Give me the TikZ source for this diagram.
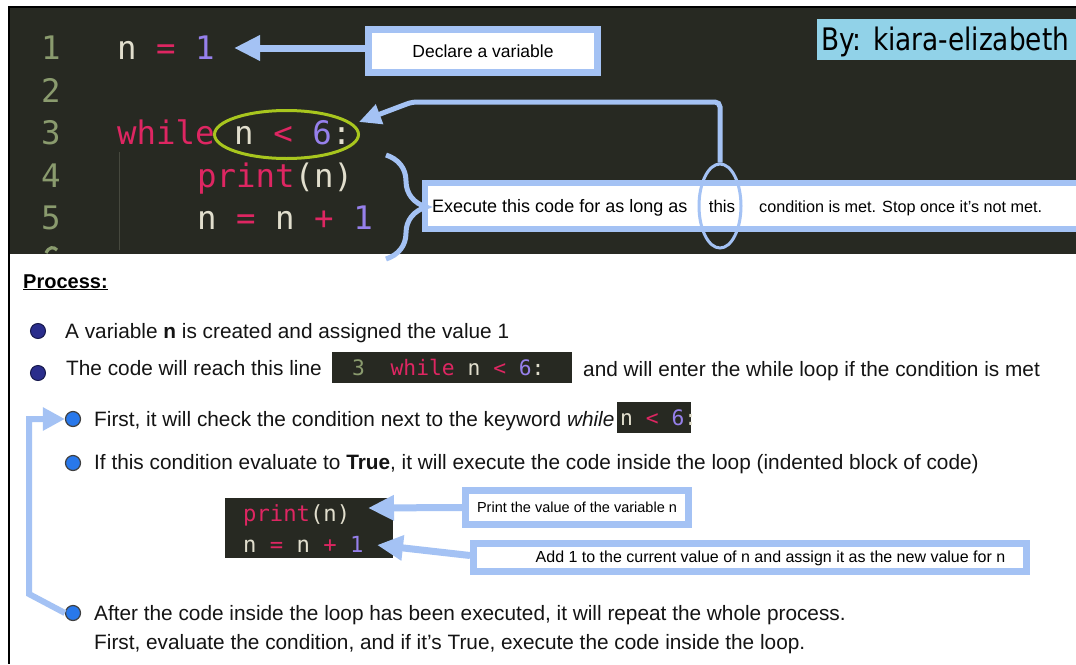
\documentclass[tikz,border=0pt]{standalone}
\usepackage{fontspec}
\setmainfont{Liberation Sans}
\newfontfamily\codefont{DejaVu Sans Mono}
\newfontfamily\byfont[FakeStretch=0.85]{DejaVu Sans}
\usetikzlibrary{arrows.meta,shapes.geometric,decorations.pathreplacing}
\definecolor{panel}{RGB}{39,41,34}
\definecolor{lnum}{RGB}{138,155,110}
\definecolor{kred}{RGB}{222,38,98}
\definecolor{kpurp}{RGB}{150,128,235}
\definecolor{cream}{RGB}{225,222,205}
\definecolor{lblue}{RGB}{164,194,244}
\definecolor{cgreen}{RGB}{168,198,30}
\definecolor{skyb}{RGB}{145,210,232}
\definecolor{navyb}{RGB}{42,45,140}
\definecolor{blueb}{RGB}{40,120,235}
\definecolor{guide}{RGB}{70,72,62}
\newcommand{\setfs}[1]{\fontsize{#1pt}{#1pt}\selectfont}
\begin{document}
\begin{tikzpicture}[x=1pt,y=-1pt,
  txt/.style={inner sep=0pt, anchor=base west, font=\setfs{20.8}, text=black!92},
  bigcode/.style={inner sep=0pt, anchor=base west, font={\codefont\setfs{32.4}}},
  lnumber/.style={inner sep=0pt, anchor=base, font={\codefont\setfs{32.4}}, text=lnum},
  smallcode/.style={inner sep=0pt, anchor=base west, font={\codefont\setfs{21.3}}},
  midcode/.style={inner sep=0pt, anchor=base west, font={\codefont\setfs{22.2}}},
  bluebox/.style={draw=lblue, fill=white, rectangle, inner sep=0pt},
  codebox/.style={fill=panel, rectangle, inner sep=0pt},
  navybullet/.style={circle, fill=navyb, draw=navyb!55!black, line width=1pt, minimum size=15pt, inner sep=0pt},
  bluebullet/.style={circle, fill=blueb, draw=black!75, line width=1.2pt, minimum size=15pt, inner sep=0pt},
  fatarrow/.style={draw=lblue, line width=7pt, -{Triangle[length=26pt,width=24pt]}},
  thinarrow/.style={draw=lblue, line width=5pt, rounded corners=5pt, -{Triangle[length=22pt,width=20pt]}},
  loopback/.style={draw=lblue, line width=6pt, -{Triangle[length=22pt,width=22pt]}}
]
\useasboundingbox (0,0) rectangle (1076,664);
\fill[white] (0,0) rectangle (1076,664);

% ---------- code panel ----------
\fill[panel] (8,8) rectangle (1076,254);
\draw[black, line width=2pt] (8,7) -- (1076,7);
\draw[black, line width=2pt] (9,7) -- (9,664);
\draw[guide, line width=1pt] (119,152) -- (119,250);

\node[lnumber] (ln1) at (51,59.5) {1};
\node[lnumber] (ln2) at (51,102) {2};
\node[lnumber] (ln3) at (51,144.5) {3};
\node[lnumber] (ln4) at (51,187) {4};
\node[lnumber] (ln5) at (51,229.5) {5};
% cut-off top of the next line number
\begin{scope}
\clip (8,8) rectangle (1076,254);
\draw[lnum, line width=3.2pt] (57,250) .. controls (54,246.5) and (49,246.5) .. (46,253);
\end{scope}

\node[bigcode] (code1) at (117,59.5) {{\color{cream}n} {\color{kred}=} {\color{kpurp}1}};
\node[bigcode] (code3) at (117,144.5) {{\color{kred}while} {\color{cream}n} {\color{kred}<} {\color{kpurp}6}{\color{cream}:}};
\node[bigcode] (code4) at (197,187) {{\color{kred}print}{\color{cream}(n)}};
\node[bigcode] (code5) at (197,229.5) {{\color{cream}n} {\color{kred}=} {\color{cream}n} {\color{kred}+} {\color{kpurp}1}};

\node[ellipse, draw=cgreen, line width=3pt, minimum width=144pt, minimum height=48pt, inner sep=0pt] (condell) at (286.5,134.5) {};

% author label
\node[fill=skyb, minimum width=259pt, minimum height=41pt, inner sep=0pt] (bybox) at (946.5,39.5) {};
\node[inner sep=0pt, anchor=base west, font={\byfont\setfs{31}}, text=black] (bytext) at (821,50) {By: kiara-elizabeth};

% Declare a variable
\node[bluebox, line width=7pt, minimum width=229pt, minimum height=43pt, font=\setfs{17.5}] (decl) at (483,51) {Declare a variable};
\coordinate (dtip) at (234,48);
\draw[fatarrow] ([yshift=3pt]decl.west) -- (dtip);

% Execute box
\node[bluebox, line width=6pt, minimum width=662pt, minimum height=46pt] (execbox) at (756,206) {};
\node[inner sep=0pt, anchor=base west, font=\setfs{18}] (exa) at (432,212.5) {Execute this code for as long as};
\node[inner sep=0pt, anchor=base, font=\setfs{17}] (exthis) at (722,212.5) {this};
\node[inner sep=0pt, anchor=base west, font=\setfs{16.2}] (exc) at (759,212) {condition is met. Stop once it's not met.};
\node[ellipse, draw=lblue, line width=3pt, minimum width=42pt, minimum height=84pt, inner sep=0pt] (thisell) at (720,206) {};

% brace
\draw[lblue, line width=5pt, decorate, decoration={brace, amplitude=40pt}] (386,155) -- (386,259);

% connector from "this" to condition
\coordinate (c1) at (720,102);
\coordinate (c2) at (412,102);
\coordinate (condtip) at (359,122);
\draw[thinarrow] (thisell.north) -- (c1) -- (c2) -- (condtip);

% ---------- process ----------
\node[inner sep=0pt, anchor=base west, font=\setfs{20}\bfseries] (proc) at (23,288) {\underline{Process:}};

\node[navybullet] (b1) at (38,331) {};
\node[txt] (t1) at (65,338.5) {A variable \textbf{n} is created and assigned the value 1};

\node[navybullet] (b2) at (38,373) {};
\node[txt] (t2a) at (66,375.5) {The code will reach this line};
\node[codebox, minimum width=240pt, minimum height=31pt] (ic1) at (452,367.5) {};
\node[smallcode] (ic1t) at (352,375) {{\color{lnum}3}\ \ {\color{kred}while} {\color{cream}n} {\color{kred}<} {\color{kpurp}6}{\color{cream}:}};
\node[txt] (t2b) at (583,376.5) {and will enter the while loop if the condition is met};

\node[bluebullet] (b3) at (73,419) {};
\node[txt] (t3) at (94,426.5) {First, it will check the condition next to the keyword \textit{while}};
\node[codebox, minimum width=74pt, minimum height=31pt] (ic2) at (654,417.5) {};
\node[smallcode] (ic2t) at (620,425) {{\color{cream}n} {\color{kred}<} {\color{kpurp}6}{\color{cream}:}};

\node[bluebullet] (b4) at (73,463) {};
\node[txt] (t4) at (94,469.5) {If this condition evaluate to \textbf{True}, it will execute the code inside the loop (indented block of code)};

% code block
\node[codebox, minimum width=168pt, minimum height=60pt] (cb) at (309,528) {};
\node[midcode] (cbl1) at (243,521) {{\color{kred}print}{\color{cream}(n)}};
\node[midcode] (cbl2) at (243,552) {{\color{cream}n} {\color{kred}=} {\color{cream}n} {\color{kred}+} {\color{kpurp}1}};

\node[bluebox, line width=7pt, minimum width=223pt, minimum height=34pt, font=\setfs{14.5}] (pbox) at (577,507.5) {Print the value of the variable n};
\node[bluebox, line width=7pt, minimum width=553pt, minimum height=28pt] (abox) at (750,557.5) {};
\node[inner sep=0pt, font=\setfs{16}] (atext) at (770.5,558) {Add 1 to the current value of n and assign it as the new value for n};
\coordinate (ptip) at (368,508);
\coordinate (atip) at (377,545);
\draw[fatarrow] (pbox.west) -- (ptip);
\draw[fatarrow] ([yshift=2pt]abox.west) -- (atip);

\node[bluebullet] (b5) at (73,613) {};
\node[txt] (t5a) at (94,620.5) {After the code inside the loop has been executed, it will repeat the whole process.};
\node[txt] (t5b) at (94,649.5) {First, evaluate the condition, and if it's True, execute the code inside the loop.};

% loop back arrow
\coordinate (lp1) at (29,594);
\coordinate (lp2) at (29,419);
\draw[loopback] (b5.west) -- (lp1) -- (lp2) -- (b3.west);
\end{tikzpicture}
\end{document}
